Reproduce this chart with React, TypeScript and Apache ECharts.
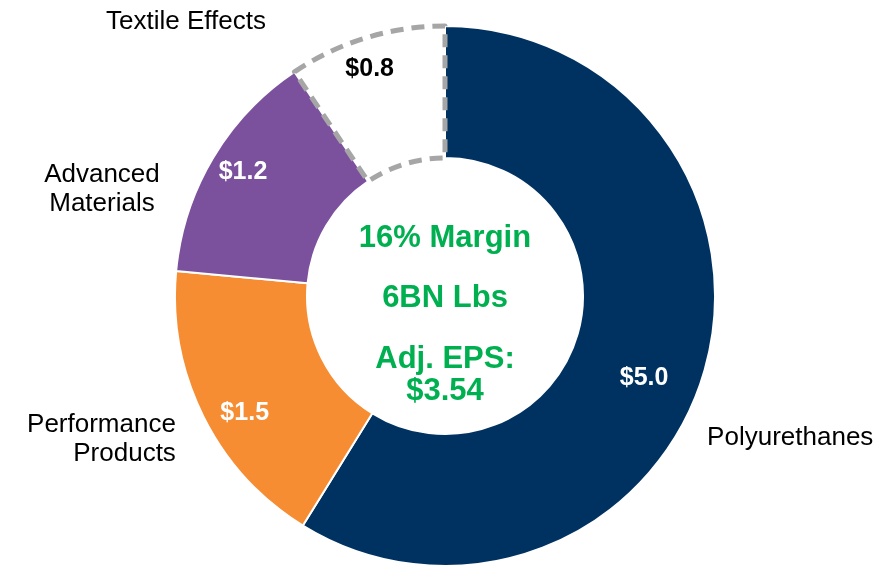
import React, { useEffect, useRef } from "react";
import * as echarts from "echarts";

const categories = ["Polyurethanes", "Performance\nProducts", "Advanced\nMaterials", "Textile Effects"];
const values = [5.0, 1.5, 1.2, 0.8];
const valueLabels = ["$5.0", "$1.5", "$1.2", "$0.8"];
const sliceColors = ["#003261", "#f68d33", "#7b519d", "#ffffff"];
const valueLabelColors = ["#ffffff", "#ffffff", "#ffffff", "#000000"];
const centerLines = ["16% Margin", "6BN Lbs", "Adj. EPS:", "$3.54"];

// label fine-tuning offsets (px)
const innerOffsets = [[0, 23], [-15, 23], [-24, -20], [-15, -31]];
const outerOffsets = [[-32, 62], [6, 14], [-78, 37], [-76, -3]];
const outerAligns = [undefined, undefined, "center", undefined];

const FONT = "Liberation Sans, Arial, sans-serif";

export default function App() {
  const ref = useRef<HTMLDivElement>(null);
  useEffect(() => {
    if (!ref.current) return;
    const chart = echarts.init(ref.current, undefined, { renderer: "svg" });
    const cx = 445;
    const cy = 296;
    const mainData = categories.map((name, i) => ({
      name,
      value: values[i],
      itemStyle:
        i === 3
          ? { color: "#ffffff", borderColor: "#a6a6a6", borderWidth: 5, borderType: [13, 8] }
          : { color: sliceColors[i], borderColor: "#ffffff", borderWidth: 2 },
      label: { color: valueLabelColors[i] },
    }));
    const nameData = categories.map((name, i) => ({ name, value: values[i] }));
    const centerY = [236, 296, 357, 389];
    chart.setOption({
      animation: false,
      series: [
        {
          type: "pie",
          center: [cx, cy],
          radius: [138, 270],
          startAngle: 90,
          clockwise: true,
          avoidLabelOverlap: false,
          silent: true,
          data: mainData,
          label: {
            show: true,
            position: "inside",
            formatter: (p: any) => valueLabels[p.dataIndex],
            fontFamily: FONT,
            fontWeight: "bold",
            fontSize: 25,
          },
          labelLine: { show: false },
          labelLayout: (p: any) => ({ dx: innerOffsets[p.dataIndex][0], dy: innerOffsets[p.dataIndex][1] }),
        },
        {
          type: "pie",
          center: [cx, cy],
          radius: [138, 270],
          startAngle: 90,
          clockwise: true,
          avoidLabelOverlap: false,
          silent: true,
          z: 1,
          data: nameData,
          itemStyle: { color: "transparent", borderWidth: 0 },
          label: {
            show: true,
            position: "outside",
            formatter: (p: any) => p.name,
            fontFamily: FONT,
            fontSize: 26,
            lineHeight: 29,
            color: "#000000",
          },
          labelLine: { show: false, length: 15, length2: 15 },
          labelLayout: (p: any) => {
            const o: any = { dx: outerOffsets[p.dataIndex][0], dy: outerOffsets[p.dataIndex][1] };
            if (outerAligns[p.dataIndex]) o.align = outerAligns[p.dataIndex];
            return o;
          },
        },
      ],
      graphic: centerLines.map((t, i) => ({
        type: "text",
        x: cx,
        y: centerY[i],
        style: {
          text: t,
          fill: "#00b050",
          font: `bold 31px ${FONT}`,
          textAlign: "center",
          textVerticalAlign: "middle",
        },
      })),
    });
    return () => chart.dispose();
  }, []);
  return <div ref={ref} style={{ position: "fixed", left: 0, top: 0, width: 894, height: 569 }} />;
}
